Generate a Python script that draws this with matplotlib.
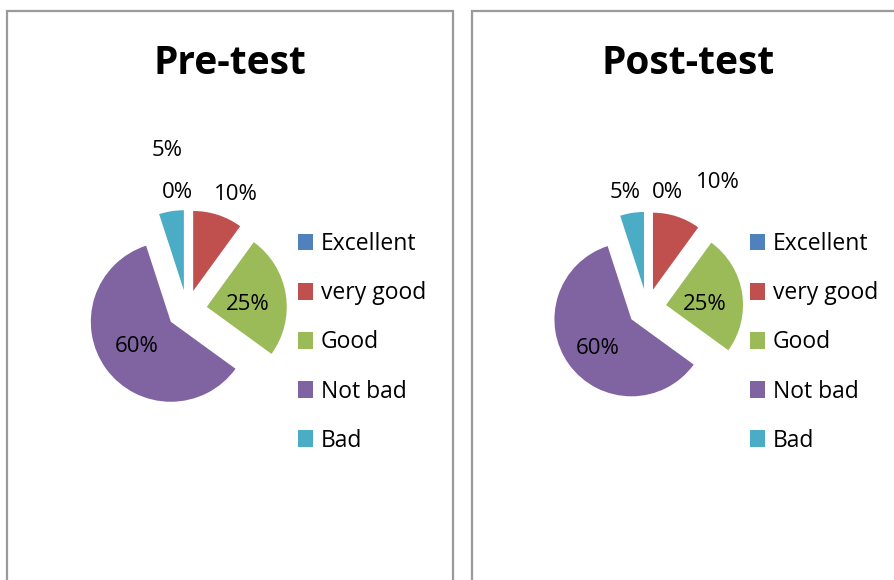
import matplotlib.pyplot as plt
from matplotlib.patches import Rectangle

categories = ['Excellent', 'very good', 'Good', 'Not bad', 'Bad']
pre_values = [0, 10, 25, 60, 5]
post_values = [0, 10, 25, 60, 5]
pre_labels = ['0%', '10%', '25%', '60%', '5%']
post_labels = ['0%', '10%', '25%', '60%', '5%']
colors = ['#4F81BD', '#C0504D', '#9BBB59', '#8064A2', '#4BACC6']

W, H = 894, 580
plt.rcParams['font.family'] = ['Open Sans', 'DejaVu Sans']

fig = plt.figure(figsize=(W / 100, H / 100), dpi=100)


def fx(x):
    return x / W


def fy(y):
    return 1 - y / H


def draw_panel(title, values, labels, box, center, R, tx, label_px, leg_xy):
    # panel border
    x0, y0, x1, y1 = box
    fig.add_artist(Rectangle((fx(x0), fy(y1)), fx(x1) - fx(x0), fy(y0) - fy(y1),
                             transform=fig.transFigure, fill=False,
                             edgecolor='#9a9a9a', linewidth=1.6))
    fig.text(fx(tx), fy(63), title, ha='center', va='center',
             fontsize=28, fontweight='bold')

    cx, cy = center
    k = 3.0
    ax = fig.add_axes([fx(cx - k * R), fy(cy + k * R), 2 * k * R / W, 2 * k * R / H])
    wedges, _ = ax.pie(values, colors=colors, startangle=90, counterclock=False,
                       explode=[0.25] * len(values), radius=1,
                       wedgeprops=dict(linewidth=0))
    ax.set_xlim(-k, k)
    ax.set_ylim(-k, k)
    ax.set_axis_off()
    for lab, (px, py) in zip(labels, label_px):
        ax.text((px - cx) / R, (cy - py) / R, lab, ha='center', va='center',
                fontsize=16)

    fig.legend(wedges, categories, loc='upper left',
               bbox_to_anchor=(fx(leg_xy[0]), fy(leg_xy[1])),
               frameon=False, fontsize=16.5, handlelength=0.65, handleheight=0.75,
               handletextpad=0.35, labelspacing=1.1, borderpad=0, borderaxespad=0)


draw_panel('Pre-test', pre_values, pre_labels, (7, 11, 453, 600), (187, 310), 80, 230,
           [(177, 193), (236, 195), (248, 305), (137, 347), (167, 150)], (298, 232))
draw_panel('Post-test', post_values, post_labels, (472, 11, 910, 600), (647, 308), 77, 688,
           [(667, 192), (718, 182), (705, 305), (598, 348), (625, 193)], (750, 232))

fig.savefig('out.png', dpi=100)
